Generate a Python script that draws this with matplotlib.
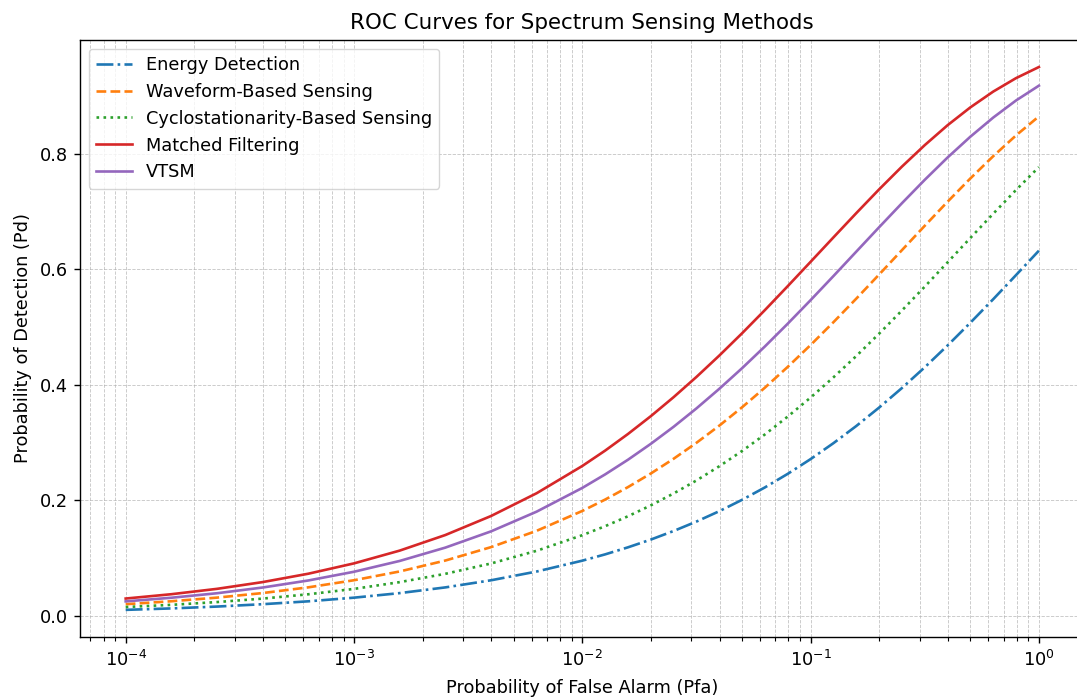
import numpy as np
import matplotlib
matplotlib.use("Agg")
import matplotlib.pyplot as plt

# false alarm probabilities (log spaced samples)
pfa = [1e-4, 1.585e-4, 2.512e-4, 3.981e-4, 6.310e-4,
       1e-3, 1.585e-3, 2.512e-3, 3.981e-3, 6.310e-3,
       1e-2, 0.01259, 0.01585, 0.01995, 0.02512, 0.03162, 0.03981, 0.05012,
       0.06310, 0.07943, 0.1, 0.1259, 0.1585, 0.1995, 0.2512, 0.3162,
       0.3981, 0.5012, 0.6310, 0.7943, 1.0]

pd_energy = [0.0100, 0.0125, 0.0157, 0.0198, 0.0248, 0.0311, 0.0390, 0.0489,
             0.0612, 0.0764,
             0.0952, 0.1061, 0.1183, 0.1317, 0.1466, 0.1629, 0.1809, 0.2006,
             0.2221, 0.2456, 0.2711, 0.2987, 0.3284, 0.3603, 0.3942, 0.4301,
             0.4679, 0.5074, 0.5481, 0.5899, 0.6321]
pd_waveform = [0.0198, 0.0249, 0.0312, 0.0391, 0.0490, 0.0613, 0.0765, 0.0954,
               0.1186, 0.1469,
               0.1813, 0.2010, 0.2226, 0.2461, 0.2717, 0.2993, 0.3290, 0.3609,
               0.3949, 0.4309, 0.4687, 0.5082, 0.5490, 0.5907, 0.6330, 0.6752,
               0.7169, 0.7573, 0.7958, 0.8318, 0.8647]
pd_cyclo = [0.0149, 0.0187, 0.0235, 0.0295, 0.0370, 0.0463, 0.0580, 0.0724,
            0.0903, 0.1123,
            0.1393, 0.1549, 0.1721, 0.1909, 0.2116, 0.2341, 0.2587, 0.2852,
            0.3139, 0.3448, 0.3777, 0.4127, 0.4496, 0.4883, 0.5285, 0.5698,
            0.6119, 0.6542, 0.6962, 0.7373, 0.7769]
pd_matched = [0.0296, 0.0371, 0.0464, 0.0581, 0.0726, 0.0905, 0.1126, 0.1396,
              0.1725, 0.2120,
              0.2592, 0.2858, 0.3146, 0.3454, 0.3784, 0.4134, 0.4504, 0.4891,
              0.5293, 0.5707, 0.6128, 0.6551, 0.6971, 0.7382, 0.7777, 0.8149,
              0.8494, 0.8804, 0.9077, 0.9310, 0.9502]
pd_vtsm = [0.0247, 0.0310, 0.0388, 0.0487, 0.0609, 0.0760, 0.0947, 0.1178,
           0.1459, 0.1801,
           0.2212, 0.2446, 0.2700, 0.2975, 0.3271, 0.3589, 0.3928, 0.4286,
           0.4663, 0.5057, 0.5464, 0.5881, 0.6304, 0.6726, 0.7143, 0.7548,
           0.7935, 0.8296, 0.8627, 0.8923, 0.9179]

fs = 12.8  # original was rendered at a higher dpi, so everything is scaled up
lw = 1.9

fig = plt.figure(figsize=(10.77, 7), dpi=100)
# right edge of the axes runs slightly past the image, like the cropped original
ax = fig.add_axes([0.0743, 0.09, 0.9327, 0.853])

ax.semilogx(pfa, pd_energy, '-.', color='C0', lw=lw, label='Energy Detection')
ax.semilogx(pfa, pd_waveform, '--', color='C1', lw=lw, label='Waveform-Based Sensing')
ax.semilogx(pfa, pd_cyclo, ':', color='C2', lw=lw, label='Cyclostationarity-Based Sensing')
ax.semilogx(pfa, pd_matched, '-', color='C3', lw=lw, label='Matched Filtering')
ax.semilogx(pfa, pd_vtsm, '-', color='C4', lw=lw, label='VTSM')

ax.set_title('ROC Curves for Spectrum Sensing Methods', fontsize=15.4, pad=7.5)
ax.set_xlabel('Probability of False Alarm (Pfa)', fontsize=fs, labelpad=7)
ax.set_ylabel('Probability of Detection (Pd)', fontsize=fs, labelpad=5)
ax.tick_params(which='major', labelsize=fs, length=4.5, width=1.0, pad=4.5)
ax.tick_params(which='minor', length=2.6, width=0.8)
for s in ax.spines.values():
    s.set_linewidth(1.0)
ax.grid(True, which='both', linestyle='--', linewidth=0.64, alpha=0.7)
ax.legend(loc='upper left', fontsize=fs)

fig.savefig('out.png', dpi=100)
